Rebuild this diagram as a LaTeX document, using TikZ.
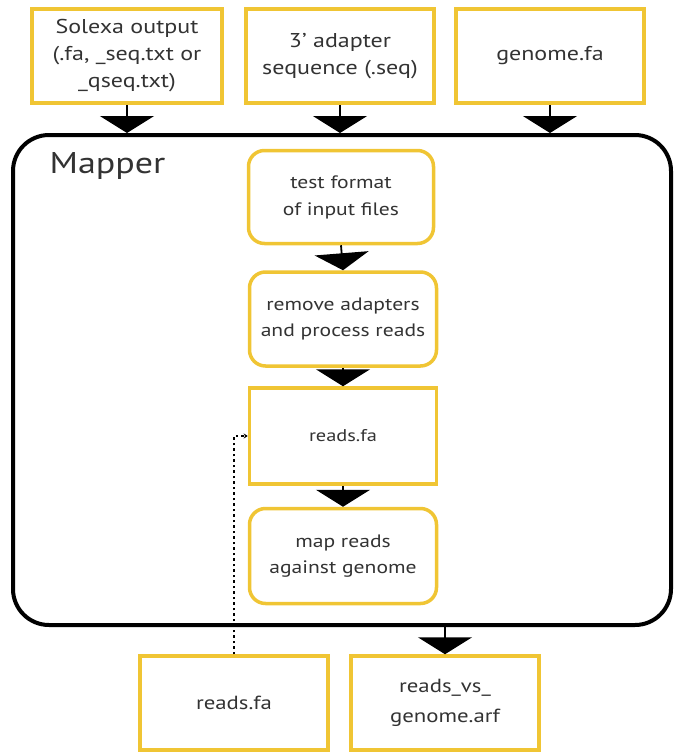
\documentclass[tikz,border=0pt]{standalone}
\usepackage{fontspec}
\setmainfont{PT Sans}[FakeStretch=1.2]
\usetikzlibrary{arrows.meta}
\definecolor{gold}{HTML}{F0C534}
\definecolor{txt}{HTML}{333333}
\tikzset{
  ybox/.style={draw=gold, line width=3.5pt, fill=white, text=txt, align=center, inner sep=0pt},
  rbox/.style={ybox, rounded corners=16pt},
  big/.style={font=\fontsize{20}{27}\selectfont},
  mid/.style={font=\fontsize{18}{26}\selectfont},
  flow/.style={line width=1.8pt, -{Triangle[width=54pt,length=17pt]}},
  link/.style={line width=2.2pt, dash pattern=on 2.5pt off 3pt, -{Stealth[length=4pt,width=5pt]}},
}
\begin{document}
\begin{tikzpicture}[x=1pt,y=-1pt]
\useasboundingbox (0,0) rectangle (676,753);
% Mapper container
\node[draw=black, line width=4pt, rounded corners=36pt, minimum width=658pt, minimum height=490pt, inner sep=0pt] (mapper) at (342,380) {};
\node[anchor=west, text=txt, font=\fontsize{30}{34}\selectfont] (mlabel) at (46,166) {Mapper};
% inputs
\node[ybox, big, minimum width=190pt, minimum height=94pt] (solexa) at (127,56) {Solexa output\\(.fa, \_seq.txt or\\\_qseq.txt)};
\node[ybox, big, minimum width=188pt, minimum height=94pt] (adapter) at (340,56) {3’ adapter\\sequence (.seq)};
\node[ybox, big, minimum width=188pt, minimum height=94pt] (genome) at (550,56) {genome.fa};
% inner steps
\node[rbox, font=\fontsize{18}{27}\selectfont, minimum width=185pt, minimum height=93pt] (test) at (341,197) {test format\\of input files};
\node[rbox, mid, minimum width=187pt, minimum height=94pt] (remove) at (343,319) {remove adapters\\and process reads};
\node[ybox, font=\fontsize{17}{22}\selectfont, minimum width=187pt, minimum height=96pt] (readsin) at (343,436) {reads.fa};
\node[rbox, mid, minimum width=187pt, minimum height=95pt] (map) at (343,556) {map reads\\against genome};
% outputs
\node[ybox, font=\fontsize{19}{30}\selectfont, minimum width=188pt, minimum height=94pt] (readsout) at (234,703) {reads.fa};
\node[ybox, font=\fontsize{19}{30}\selectfont, minimum width=188pt, minimum height=94pt] (arf) at (445,703) {reads\_vs\_\\genome.arf};
% connectors
\draw[flow] (solexa.south) -- (solexa.south |- mapper.north);
\draw[flow] (adapter.south) -- (adapter.south |- mapper.north);
\draw[flow] (genome.south) -- (genome.south |- mapper.north);
\draw[flow] (test.south) -- (remove.north);
\draw[flow] (remove.south) -- (readsin.north);
\draw[flow] (readsin.south) -- (map.north);
\draw[flow] (arf.north |- mapper.south) -- (arf.north);
\draw[link] (readsout.north) |- (readsin.west);
\end{tikzpicture}
\end{document}
